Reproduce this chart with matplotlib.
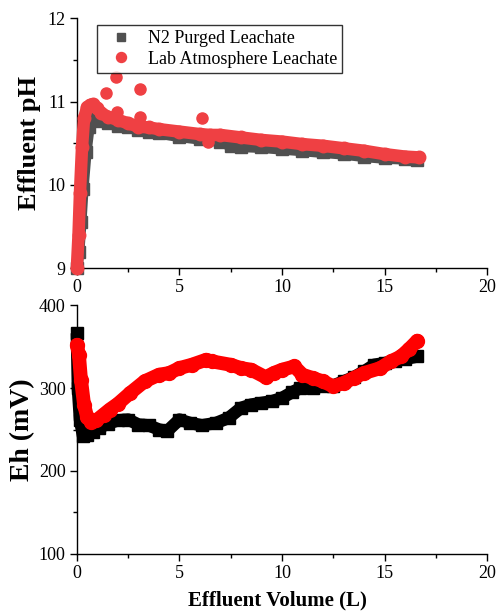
import matplotlib.pyplot as plt
from matplotlib.ticker import MultipleLocator

plt.rcParams['font.family'] = ['Liberation Serif', 'DejaVu Serif']

# effluent pH
vol_ph_n2 = [0, 0.1, 0.2, 0.3, 0.45, 0.6, 0.75, 0.9, 1.2, 1.5, 2.0, 2.5, 3.0, 3.5, 4.0, 5.0, 6.0,
             7.0, 7.5, 8.0, 9.0, 10.0, 11.0, 12.0, 13.0, 14.0, 15.0, 16.0, 16.6]
ph_n2 = [9.0, 9.2, 9.55, 9.95, 10.4, 10.7, 10.8, 10.8, 10.77, 10.74, 10.71, 10.69, 10.66, 10.64, 10.62,
         10.58, 10.55, 10.52, 10.47, 10.46, 10.45, 10.43, 10.41, 10.39, 10.37, 10.34, 10.32, 10.31, 10.30]
vol_ph_lab = [0, 0.08, 0.15, 0.25, 0.35, 0.5, 0.65, 0.8, 1.0, 1.2, 1.5, 2.0, 2.5, 3.0, 3.5, 4.0, 5.0,
              6.0, 6.5, 7.0, 8.0, 9.0, 10.0, 11.0, 12.0, 13.0, 14.0, 15.0, 16.0, 16.7]
ph_lab = [9.0, 9.4, 9.9, 10.45, 10.8, 10.93, 10.96, 10.97, 10.92, 10.86, 10.82, 10.78, 10.74, 10.7, 10.69,
          10.67, 10.64, 10.61, 10.6, 10.6, 10.57, 10.54, 10.52, 10.49, 10.47, 10.44, 10.41, 10.37, 10.34, 10.33]
vol_ph_out = [1.41, 1.9, 1.95, 3.07, 3.07, 6.1, 6.4]
ph_out = [11.1, 11.29, 10.87, 11.15, 10.81, 10.8, 10.52]

# Eh
vol_eh_n2 = [0, 0.05, 0.15, 0.3, 0.5, 0.8, 1.1, 1.5, 2.0, 2.5, 3.0, 3.5, 4.0, 4.4, 5.0, 5.5, 6.1, 6.8,
             7.4, 8.0, 8.5, 9.0, 9.5, 10.0, 10.5, 10.9, 11.5, 12.0, 12.5, 13.0, 13.5, 14.0, 14.5, 15.0,
             15.5, 16.0, 16.6]
eh_n2 = [366, 300, 262, 242, 243, 247, 252, 257, 261, 262, 256, 255, 250, 248, 262, 258, 255, 258,
         264, 276, 280, 282, 284, 288, 295, 300, 300, 302, 303, 308, 313, 320, 328, 330, 333, 335, 338]
vol_eh_lab = [0, 0.1, 0.2, 0.35, 0.5, 0.7, 0.95, 1.3, 1.6, 2.0, 2.6, 3.3, 4.0, 4.5, 5.0, 5.6, 6.3, 6.6,
              7.5, 8.0, 8.5, 9.2, 9.6, 10.0, 10.6, 11.0, 11.5, 12.0, 12.5, 13.0, 13.5, 14.0, 14.8,
              15.3, 15.8, 16.2, 16.6]
eh_lab = [352, 340, 310, 280, 265, 259, 261, 268, 274, 281, 294, 308, 316, 318, 324, 328, 334, 332,
          328, 324, 322, 313, 318, 322, 326, 316, 312, 308, 302, 306, 312, 318, 324, 332, 338, 347, 357]

gray = '#505050'
red_top = '#ef4043'

fig = plt.figure(figsize=(4.96, 6.11), dpi=100)
ax1 = fig.add_axes([0.155, 0.561, 0.827, 0.409])
ax2 = fig.add_axes([0.155, 0.0933, 0.827, 0.4075])

ax1.plot(vol_ph_n2, ph_n2, color=gray, lw=8, solid_capstyle='butt', zorder=2)
ax1.plot(vol_ph_n2, ph_n2, 's', color=gray, ms=8, zorder=2, label='N2 Purged Leachate')
ax1.plot(vol_ph_lab, ph_lab, color=red_top, lw=9, solid_capstyle='round', zorder=3)
ax1.plot(vol_ph_lab, ph_lab, 'o', color=red_top, ms=9, zorder=3, label='Lab Atmosphere Leachate')
ax1.plot(vol_ph_out, ph_out, 'o', color=red_top, ms=8, zorder=3)

ax2.plot(vol_eh_n2, eh_n2, color='black', lw=9, solid_capstyle='butt', zorder=2)
ax2.plot(vol_eh_n2, eh_n2, 's', color='black', ms=9, zorder=2)
ax2.plot(vol_eh_lab, eh_lab, color='red', lw=10, solid_capstyle='round', zorder=3)
ax2.plot(vol_eh_lab, eh_lab, 'o', color='red', ms=10, zorder=3)

ax1.set_xlim(0, 20)
ax1.set_ylim(9, 12)
ax1.yaxis.set_major_locator(MultipleLocator(1))
ax1.yaxis.set_minor_locator(MultipleLocator(0.5))
ax2.set_xlim(0, 20)
ax2.set_ylim(100, 400)
ax2.yaxis.set_major_locator(MultipleLocator(100))
ax2.yaxis.set_minor_locator(MultipleLocator(50))

for ax in (ax1, ax2):
    ax.spines['top'].set_visible(False)
    ax.spines['right'].set_visible(False)
    ax.xaxis.set_major_locator(MultipleLocator(5))
    ax.xaxis.set_minor_locator(MultipleLocator(2.5))
    ax.tick_params(which='major', direction='out', length=5, width=1, labelsize=13, pad=3)
    ax.tick_params(which='minor', direction='out', length=3, width=1)
    for s in ('left', 'bottom'):
        ax.spines[s].set_linewidth(1)
    for obj in ax.lines:
        obj.set_clip_on(False)

ax1.set_ylabel('Effluent pH', fontsize=19, fontweight='bold', va='center')
ax1.yaxis.set_label_coords(-0.115, 0.5)
ax2.set_ylabel('Eh (mV)', fontsize=20, fontweight='bold', va='center')
ax2.yaxis.set_label_coords(-0.132, 0.5)
ax2.set_xlabel('Effluent Volume (L)', fontsize=15, fontweight='bold', va='center')
ax2.xaxis.set_label_coords(0.49, -0.185)

leg = ax1.legend(loc='upper left', bbox_to_anchor=(0.05, 0.975), fontsize=13, frameon=True,
                 fancybox=False, edgecolor='black', handletextpad=0.48, borderpad=0.3,
                 labelspacing=0.2, handlelength=2.0, markerscale=0.8, borderaxespad=0)
leg.get_frame().set_linewidth(1)

fig.savefig('out.png', dpi=100)
